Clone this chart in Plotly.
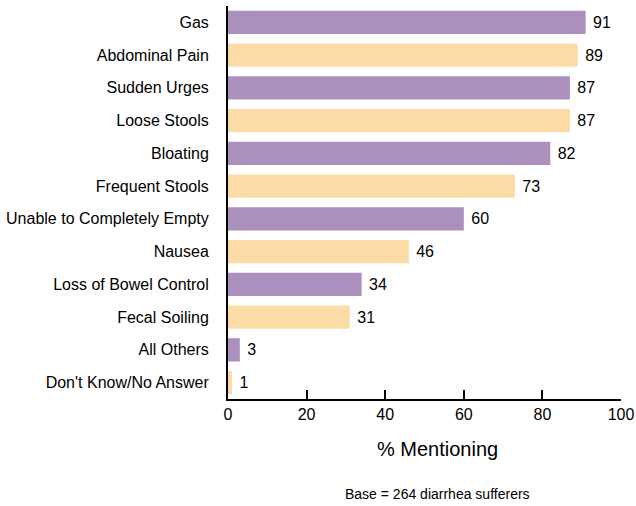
import plotly.graph_objects as go

categories = ["Gas", "Abdominal Pain", "Sudden Urges", "Loose Stools", "Bloating",
              "Frequent Stools", "Unable to Completely Empty", "Nausea",
              "Loss of Bowel Control", "Fecal Soiling", "All Others", "Don't Know/No Answer"]
values = [91, 89, 87, 87, 82, 73, 60, 46, 34, 31, 3, 1]
tick_values = [0, 20, 40, 60, 80, 100]

PURPLE = "#AB8FBC"
PEACH = "#FCDCA6"
colors = [PURPLE if i % 2 == 0 else PEACH for i in range(len(values))]

FONT = "Liberation Sans, Arial"

fig = go.Figure(go.Bar(
    x=values, y=categories, orientation="h",
    marker=dict(color=colors, line=dict(width=0)),
    text=[" " + str(v) for v in values], textposition="outside",
    textfont=dict(family=FONT, size=16, color="black"),
    cliponaxis=False, hoverinfo="none",
))

fig.update_layout(
    width=636, height=506,
    margin=dict(l=228, r=15, t=6, b=107),
    plot_bgcolor="white", paper_bgcolor="white",
    bargap=0.29,
    showlegend=False,
    font=dict(family=FONT, size=16, color="black"),
    xaxis=dict(range=[0, 100], tickvals=tick_values, ticks="inside", ticklen=9,
               tickwidth=2, tickcolor="black", showline=True, linecolor="black",
               linewidth=2, showgrid=False, zeroline=False, automargin=False,
               tickfont=dict(size=16), ticklabelstandoff=0),
    yaxis=dict(categoryorder="array", categoryarray=categories, autorange="reversed",
               showline=True, linecolor="black", linewidth=2, ticks="",
               showgrid=False, zeroline=False, tickfont=dict(size=16),
               automargin=False, ticklabelstandoff=14),
    annotations=[
        dict(text="% Mentioning", x=0.534, y=0, xref="paper", yref="paper",
             xanchor="center", yanchor="middle", yshift=-50, showarrow=False,
             font=dict(size=20)),
        dict(text="Base = 264 diarrhea sufferers", x=0.534, y=0, xref="paper",
             yref="paper", xanchor="center", yanchor="middle", yshift=-95,
             showarrow=False, font=dict(size=14)),
    ],
)

fig.write_html("out.html", config={"displayModeBar": False},
               post_script="document.body.style.margin='0';document.body.style.overflow='hidden';")
